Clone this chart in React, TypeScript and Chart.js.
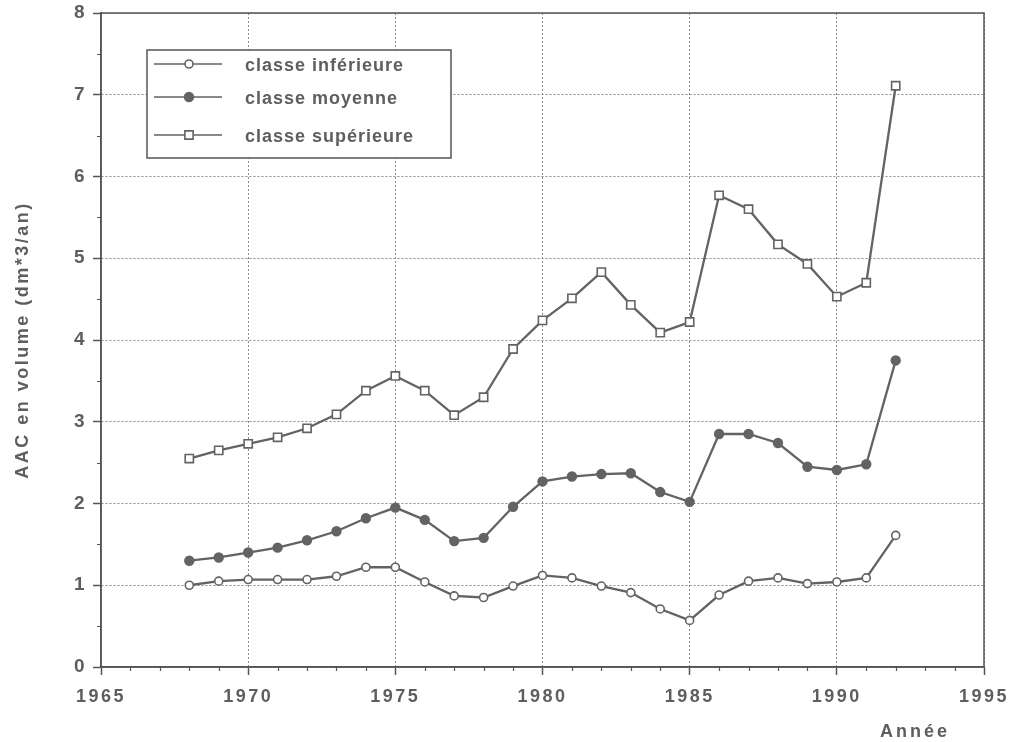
import React, { useEffect, useRef } from "react";
import { Chart, registerables } from "chart.js";

Chart.register(...registerables);

const years = [1968, 1969, 1970, 1971, 1972, 1973, 1974, 1975, 1976, 1977, 1978, 1979, 1980, 1981, 1982, 1983, 1984, 1985, 1986, 1987, 1988, 1989, 1990, 1991, 1992];
const classeInferieure = [1.0, 1.05, 1.07, 1.07, 1.07, 1.11, 1.22, 1.22, 1.04, 0.87, 0.85, 0.99, 1.12, 1.09, 0.99, 0.91, 0.71, 0.57, 0.88, 1.05, 1.09, 1.02, 1.04, 1.09, 1.61];
const classeMoyenne = [1.3, 1.34, 1.4, 1.46, 1.55, 1.66, 1.82, 1.95, 1.8, 1.54, 1.58, 1.96, 2.27, 2.33, 2.36, 2.37, 2.14, 2.02, 2.85, 2.85, 2.74, 2.45, 2.41, 2.48, 3.75];
const classeSuperieure = [2.55, 2.65, 2.73, 2.81, 2.92, 3.09, 3.38, 3.56, 3.38, 3.08, 3.3, 3.89, 4.24, 4.51, 4.83, 4.43, 4.09, 4.22, 5.77, 5.6, 5.17, 4.93, 4.53, 4.7, 7.11];
const seriesLabels = ["classe inférieure", "classe moyenne", "classe supérieure"];
const yTitle = "AAC en volume (dm*3/an)";
const xTitle = "Année";

const INK = "#5e5e5e";
const LINE = "#636363";
const GRID = "#8a8a8a";
const FONT = "'Liberation Sans', Arial, sans-serif";

const pts = (vals: number[]) => years.map((y, i) => ({ x: y, y: vals[i] }));

const decorPlugin = {
  id: "decor",
  beforeLayout(chart: any) {
    chart.ctx.letterSpacing = "2.5px";
  },
  beforeDraw(chart: any) {
    chart.ctx.letterSpacing = "2.5px";
  },
  afterDraw(chart: any) {
    const ctx = chart.ctx;
    const a = chart.chartArea;
    const xs = chart.scales.x;
    const ys = chart.scales.y;
    ctx.save();
    // frame
    ctx.strokeStyle = "#555";
    ctx.lineWidth = 1.5;
    ctx.setLineDash([]);
    ctx.strokeRect(a.left, a.top, a.right - a.left, a.bottom - a.top);
    // minor ticks
    ctx.lineWidth = 1.2;
    ctx.beginPath();
    for (let v = 1966; v < 1995; v++) {
      if (v % 5 === 0) continue;
      const px = Math.round(xs.getPixelForValue(v)) + 0.5;
      ctx.moveTo(px, a.bottom);
      ctx.lineTo(px, a.bottom + 4);
    }
    for (let v = 0.5; v < 8; v += 1) {
      const py = Math.round(ys.getPixelForValue(v)) + 0.5;
      ctx.moveTo(a.left, py);
      ctx.lineTo(a.left - 4, py);
    }
    ctx.stroke();

    // x title
    ctx.letterSpacing = "3px";
    ctx.fillStyle = INK;
    ctx.font = `bold 18px ${FONT}`;
    ctx.textAlign = "center";
    ctx.textBaseline = "middle";
    ctx.fillText(xTitle, 915, 732);

    // legend
    ctx.letterSpacing = "1px";
    const bx = 147, by = 50, bw = 304, bh = 108;
    ctx.fillStyle = "#ffffff";
    ctx.fillRect(bx, by, bw, bh);
    ctx.strokeStyle = "#555";
    ctx.lineWidth = 1.5;
    ctx.strokeRect(bx, by, bw, bh);
    const rows = [64, 97, 135];
    chart.data.datasets.forEach((ds: any, i: number) => {
      const y = rows[i];
      ctx.strokeStyle = ds.borderColor;
      ctx.lineWidth = 1.5;
      ctx.beginPath();
      ctx.moveTo(154, y);
      ctx.lineTo(222, y);
      ctx.stroke();
      ctx.fillStyle = ds.pointBackgroundColor;
      ctx.strokeStyle = ds.pointBorderColor;
      ctx.lineWidth = ds.pointBorderWidth;
      ctx.beginPath();
      if (ds.pointStyle === "rect") {
        const s = Math.SQRT1_2 * ds.pointRadius;
        ctx.rect(189 - s, y - s, 2 * s, 2 * s);
      } else {
        ctx.arc(189, y, ds.pointRadius, 0, Math.PI * 2);
      }
      ctx.fill();
      ctx.stroke();
      ctx.fillStyle = INK;
      ctx.font = `bold 18px ${FONT}`;
      ctx.textAlign = "left";
      ctx.textBaseline = "middle";
      ctx.fillText(ds.label, 245, y + 2);
    });
    ctx.restore();
  },
};

export default function App() {
  const ref = useRef<HTMLCanvasElement>(null);
  useEffect(() => {
    if (!ref.current) return;
    const common = {
      borderColor: LINE,
      borderWidth: 2.3,
      pointBorderColor: LINE,
      pointBorderWidth: 1.6,
      tension: 0,
      fill: false,
    };
    const chart = new Chart(ref.current, {
      type: "line",
      data: {
        datasets: [
          { ...common, label: seriesLabels[0], data: pts(classeInferieure), pointStyle: "circle", pointRadius: 4, pointBackgroundColor: "#ffffff" },
          { ...common, label: seriesLabels[1], data: pts(classeMoyenne), pointStyle: "circle", pointRadius: 4.4, pointBackgroundColor: LINE },
          { ...common, label: seriesLabels[2], data: pts(classeSuperieure), pointStyle: "rect", pointRadius: 5.8, pointBackgroundColor: "#ffffff" },
        ],
      },
      options: {
        animation: false,
        responsive: false,
        devicePixelRatio: 1,
        layout: { padding: { left: 0, top: 13, right: 32, bottom: 0 } },
        plugins: { legend: { display: false }, tooltip: { enabled: false } },
        scales: {
          x: {
            type: "linear",
            min: 1965,
            max: 1995,
            afterFit: (s: any) => { s.height = 75; s.paddingLeft = 0; s.paddingRight = 0; },
            ticks: { stepSize: 5, color: INK, font: { family: FONT, size: 18, weight: "bold" }, padding: 11, maxRotation: 0, callback: (v: any) => String(v) },
            grid: { color: GRID, lineWidth: 1, tickLength: 8, tickColor: "#555", tickWidth: 1.5 },
            border: { display: true, color: "#555", width: 1.5, dash: [2, 2] },
          },
          y: {
            type: "linear",
            min: 0,
            max: 8,
            afterFit: (s: any) => { s.width = 101; s.paddingTop = 0; s.paddingBottom = 0; },
            ticks: { stepSize: 1, color: INK, font: { family: FONT, size: 19, weight: "bold" }, padding: 6 },
            grid: { color: GRID, lineWidth: 1, tickLength: 8, tickColor: "#555", tickWidth: 1.5 },
            border: { display: true, color: "#555", width: 1.5, dash: [2, 2] },
            title: { display: true, text: yTitle, color: INK, font: { family: FONT, size: 18, weight: "bold" }, padding: { top: 12, bottom: 0 } },
          },
        },
      },
      plugins: [decorPlugin],
    } as any);
    return () => chart.destroy();
  }, []);
  return (
    <div style={{ position: "fixed", left: 0, top: 0, width: 1016, height: 742, background: "#fff" }}>
      <canvas ref={ref} width={1016} height={742} style={{ display: "block" }} />
    </div>
  );
}
